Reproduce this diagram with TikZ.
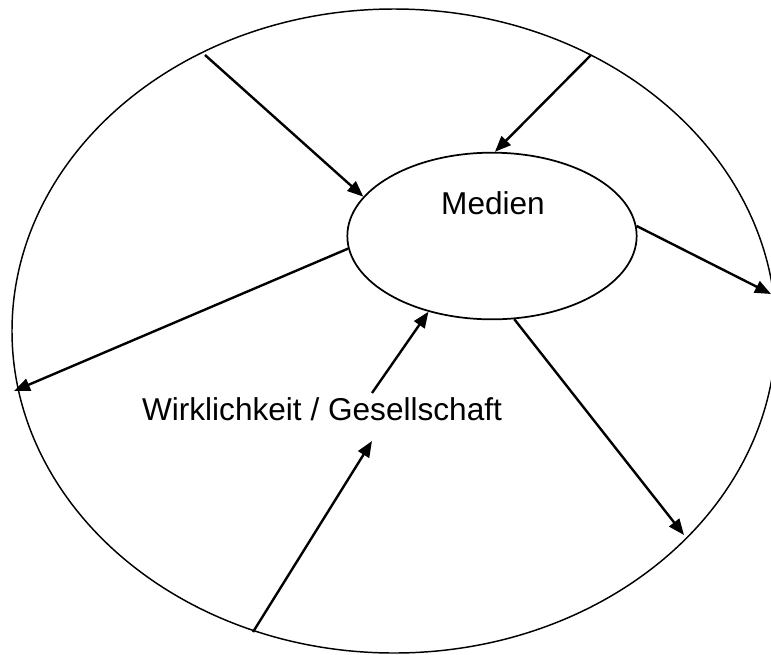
\documentclass[tikz,border=0pt]{standalone}
\usepackage{fontspec}
\setmainfont{Liberation Sans}
\usetikzlibrary{shapes.geometric}
\usetikzlibrary {arrows.meta}
\tikzset{weltell/.style={ellipse,draw=black,line width=1.1pt,
inner sep=0pt,minimum width=573pt, minimum height=483pt}}
\tikzset{medienell/.style={ellipse,draw=black,fill=white,line width=1.3pt,
inner sep=0pt,minimum width=217pt, minimum height=125pt}}
\tikzset{beschrift/.style={draw=none,inner sep=0pt,anchor=base,
font=\fontsize{23.7}{28}\selectfont}}
\tikzset{pfeil/.style={line width=1.8pt,-{Triangle[length=12pt,width=9.5pt]}}}

\begin{document}
\begin{tikzpicture}[x=0.75pt,y=-0.75pt]
        \useasboundingbox (0,0) rectangle (771,654);

        \node[weltell] (welt) at (394,331) {};
        \node[medienell] (medien) at (492,236) {};
        \node[beschrift] (medienText) at (493,214) {Medien};
        \node[beschrift] (weltText) at (322,420) {Wirklichkeit / Gesellschaft};

        \coordinate (weltA) at (205,55);
        \coordinate (weltB) at (591,55);
        \coordinate (weltC) at (771,294);
        \coordinate (weltD) at (14,391);
        \coordinate (weltE) at (684,535);
        \coordinate (weltF) at (253,632);
        \coordinate (weltFtip) at (372,441);
        \coordinate (weltG) at (372,393);

        \draw [pfeil] (weltA) -- (medien.163);
        \draw [pfeil] (weltB) -- (medien.88);
        \draw [pfeil] (medien.4) -- (weltC);
        \draw [pfeil] (medien.185) -- (weltD);
        \draw [pfeil] (medien.285) -- (weltE);
        \draw [pfeil] (weltF) -- (weltFtip);
        \draw [pfeil] (weltG) -- (medien.230);

    \end{tikzpicture}
\end{document}
